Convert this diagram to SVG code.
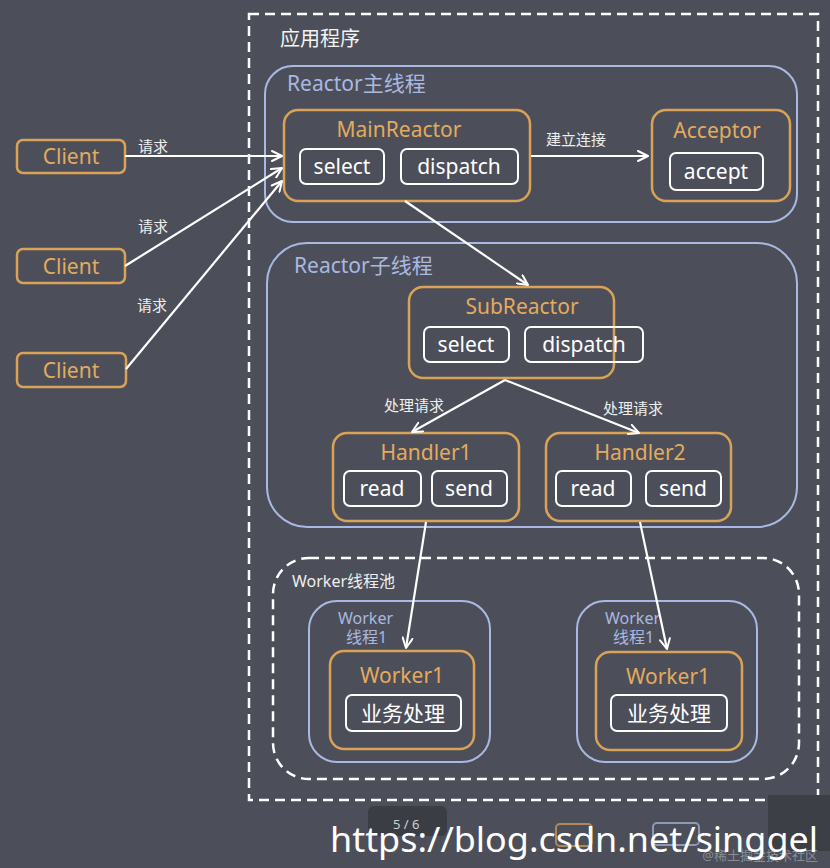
<svg xmlns="http://www.w3.org/2000/svg" width="830" height="868" viewBox="0 0 830 868">
<defs>
<marker id="arr" viewBox="0 0 12 12" refX="11" refY="6" markerWidth="12" markerHeight="12" markerUnits="userSpaceOnUse" orient="auto">
<path d="M1,1 L11,6 L1,11" fill="none" stroke="#ffffff" stroke-width="2" stroke-linecap="round" stroke-linejoin="round"/>
</marker>
<style>
text{font-family:"Noto Sans","Noto Sans CJK SC",sans-serif}
.orange{fill:none;stroke:#d9a257;stroke-width:2.5}
.blue{fill:none;stroke:#a9b9e3;stroke-width:2}
.white{fill:none;stroke:#ffffff;stroke-width:2}
.dash{fill:none;stroke:#ffffff;stroke-width:2.5;stroke-dasharray:10 6}
.ot{fill:#e3ab5e;font-size:21px;text-anchor:middle}
.wt{fill:#ffffff;font-size:21px;text-anchor:middle}
.bt{fill:#aab8e0;font-size:21px}
.lbl{fill:#eeeeee;font-size:15px}
.conn{stroke:#ffffff;stroke-width:2.2;fill:none;marker-end:url(#arr)}
</style>
</defs>
<rect width="830" height="868" fill="#4c4f59"/>

<g id="app">
<rect x="249" y="14" width="569" height="786" class="dash"/>
<text x="280" y="46" fill="#f2f2f2" font-size="20">应用程序</text>
</g>

<g id="mainThread">
<rect x="265" y="66" width="532" height="156" rx="28" class="blue"/>
<text x="287" y="91" class="bt">Reactor主线程</text>
</g>

<g id="subThread">
<rect x="267" y="243" width="530" height="284" rx="40" class="blue"/>
<text x="294" y="273" class="bt">Reactor子线程</text>
</g>

<g id="workerPool">
<rect x="273" y="558" width="526" height="221" rx="36" class="dash"/>
<text x="292" y="587" fill="#eeeeee" font-size="16">Worker线程池</text>
</g>

<g id="client1">
<rect x="17" y="140" width="108" height="33" rx="6" class="orange"/>
<text x="71" y="164" class="ot" font-size="22">Client</text>
</g>
<g id="client2">
<rect x="17" y="249" width="108" height="34" rx="6" class="orange"/>
<text x="71" y="274" class="ot" font-size="22">Client</text>
</g>
<g id="client3">
<rect x="17" y="353" width="109" height="34" rx="6" class="orange"/>
<text x="71" y="378" class="ot" font-size="22">Client</text>
</g>

<g id="mainReactor">
<rect x="284" y="110" width="246" height="91" rx="14" class="orange"/>
<text x="399" y="137" class="ot">MainReactor</text>
<rect x="300" y="149" width="84" height="35" rx="6" class="white"/>
<text x="342" y="174" class="wt">select</text>
<rect x="401" y="149" width="117" height="35" rx="6" class="white"/>
<text x="459" y="174" class="wt">dispatch</text>
</g>

<g id="acceptor">
<rect x="652" y="110" width="138" height="91" rx="14" class="orange"/>
<text x="717" y="138" class="ot">Acceptor</text>
<rect x="670" y="153" width="93" height="37" rx="6" class="white"/>
<text x="716" y="179" class="wt">accept</text>
</g>

<g id="subReactor">
<rect x="409" y="287" width="205" height="91" rx="14" class="orange"/>
<text x="522" y="314" class="ot">SubReactor</text>
<rect x="424" y="327" width="85" height="35" rx="6" class="white"/>
<text x="466" y="352" class="wt">select</text>
<rect x="525" y="327" width="118" height="35" rx="6" class="white"/>
<text x="584" y="352" class="wt">dispatch</text>
</g>

<g id="handler1">
<rect x="333" y="433" width="186" height="88" rx="14" class="orange"/>
<text x="426" y="460" class="ot">Handler1</text>
<rect x="344" y="471" width="77" height="35" rx="6" class="white"/>
<text x="382" y="496" class="wt">read</text>
<rect x="432" y="471" width="75" height="35" rx="6" class="white"/>
<text x="469" y="496" class="wt">send</text>
</g>

<g id="handler2">
<rect x="546" y="433" width="185" height="88" rx="14" class="orange"/>
<text x="640" y="460" class="ot">Handler2</text>
<rect x="556" y="471" width="75" height="35" rx="6" class="white"/>
<text x="593" y="496" class="wt">read</text>
<rect x="646" y="471" width="75" height="35" rx="6" class="white"/>
<text x="683" y="496" class="wt">send</text>
</g>

<g id="workerThread1">
<rect x="309" y="601" width="181" height="161" rx="28" class="blue"/>
<text x="338" y="624" fill="#aab8e0" font-size="16">Worker</text>
<text x="346" y="643" fill="#aab8e0" font-size="16">线程1</text>
</g>
<g id="workerThread2">
<rect x="577" y="601" width="180" height="161" rx="28" class="blue"/>
<text x="605" y="624" fill="#aab8e0" font-size="16">Worker</text>
<text x="613" y="643" fill="#aab8e0" font-size="16">线程1</text>
</g>

<g id="worker1a">
<rect x="330" y="651" width="144" height="98" rx="14" class="orange"/>
<text x="402" y="683" class="ot">Worker1</text>
<rect x="346" y="695" width="115" height="36" rx="6" class="white"/>
<text x="403" y="721" class="wt">业务处理</text>
</g>
<g id="worker1b">
<rect x="596" y="652" width="146" height="98" rx="14" class="orange"/>
<text x="668" y="684" class="ot">Worker1</text>
<rect x="611" y="695" width="116" height="36" rx="6" class="white"/>
<text x="669" y="721" class="wt">业务处理</text>
</g>

<g id="connectors">
<line x1="125" y1="156" x2="282" y2="156" class="conn"/>
<line x1="125" y1="266" x2="282" y2="168" class="conn"/>
<line x1="126" y1="369" x2="282" y2="181" class="conn"/>
<line x1="531" y1="156" x2="648" y2="156" class="conn"/>
<line x1="405" y1="201" x2="528" y2="285" class="conn"/>
<line x1="505" y1="380" x2="412" y2="432" class="conn"/>
<line x1="505" y1="380" x2="639" y2="433" class="conn"/>
<line x1="426" y1="522" x2="406" y2="648" class="conn"/>
<line x1="640" y1="522" x2="667" y2="649" class="conn"/>
<text x="138" y="152" class="lbl">请求</text>
<text x="138" y="232" class="lbl">请求</text>
<text x="137" y="311" class="lbl">请求</text>
<text x="546" y="145" class="lbl">建立连接</text>
<text x="384" y="411" class="lbl">处理请求</text>
<text x="603" y="414" class="lbl">处理请求</text>
</g>

<g id="footer">
<rect x="768" y="795" width="62" height="56" fill="#3d3f46"/>
<rect x="368" y="806" width="79" height="30" rx="6" fill="#3b3d45"/>
<text x="393" y="829" fill="#d0d0d0" font-size="13">5 / 6</text>
<rect x="556" y="824" width="36" height="22" rx="4" fill="none" stroke="#d9a257" stroke-width="2" opacity="0.7"/>
<rect x="653" y="823" width="46" height="22" rx="4" fill="none" stroke="#a9b9e3" stroke-width="2" opacity="0.7"/>
<text x="818" y="860" fill="#9a9ca3" font-size="13" text-anchor="end" opacity="0.8">@稀土掘金技术社区</text>
<text x="330" y="852" fill="#ffffff" font-size="35" textLength="488" lengthAdjust="spacingAndGlyphs" font-family="Liberation Sans, Arial, sans-serif">https://blog.csdn.net/singgel</text>
</g>
</svg>
